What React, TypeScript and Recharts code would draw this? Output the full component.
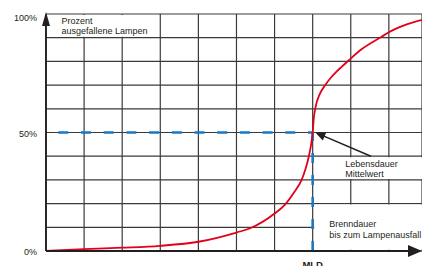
import {
  LineChart,
  Line,
  XAxis,
  YAxis,
  CartesianGrid,
  ReferenceLine,
  ReferenceArea,
} from "recharts";

// Brenndauer in grid units (MLD = 7) vs. percentage of failed lamps
const burnTime = [
  0, 1, 2, 3, 4, 5, 5.36, 6, 6.28, 6.5, 6.71, 6.82, 6.9, 6.96, 7.0, 7.03, 7.08,
  7.18, 7.33, 7.47, 7.62, 7.78, 7.95, 8.3, 8.8, 9.0, 9.4, 9.87,
];
const failedPct = [
  0, 0.8, 1.4, 2.2, 3.9, 7.8, 9.6, 15.8, 19.7, 24.5, 30, 35, 40, 45, 50, 56, 61,
  66, 70, 73, 75.6, 78, 80.5, 85.3, 90.3, 92.3, 95.2, 97.5,
];

const xTicks = [0, 1, 2, 3, 4, 5, 6, 7, 8, 9];
const yTicks = [0, 10, 20, 30, 40, 50, 60, 70, 80, 90, 100];
const yLabelTicks = [0, 50, 100];
const xMax = 9.87;
const mld = 7;
const mldPct = 50;

const RED = "#e2001a";
const BLUE = "#1a78c2";
const INK = "#231f20";
const GRID = "#3a3a3a";

const data = burnTime.map((t, i) => ({ t, pct: failedPct[i] }));

// line with a filled arrow head at its end point
function Arrow(props: any) {
  const { x1, y1, x2, y2, stroke, strokeWidth, headLen, headHalf, overshoot = 0 } = props;
  const dx = x2 - x1;
  const dy = y2 - y1;
  const len = Math.sqrt(dx * dx + dy * dy) || 1;
  const ux = dx / len;
  const uy = dy / len;
  const tx = x2 + ux * overshoot;
  const ty = y2 + uy * overshoot;
  const bx = tx - ux * headLen;
  const by = ty - uy * headLen;
  const nx = -uy * headHalf;
  const ny = ux * headHalf;
  return (
    <g>
      <line x1={x1} y1={y1} x2={bx + ux * 2} y2={by + uy * 2} stroke={stroke} strokeWidth={strokeWidth} />
      <polygon points={`${tx},${ty} ${bx + nx},${by + ny} ${bx - nx},${by - ny}`} fill={stroke} />
    </g>
  );
}

function BoxText(props: any) {
  const { viewBox, lines, dx, dy } = props;
  return (
    <text x={viewBox.x + dx} y={viewBox.y + dy} fontSize={9} fill={INK}>
      {lines.map((l: string, i: number) => (
        <tspan key={i} x={viewBox.x + dx} dy={i === 0 ? 0 : 10.5}>
          {l}
        </tspan>
      ))}
    </text>
  );
}

function YTick(props: any) {
  const { x, y, payload } = props;
  if (!yLabelTicks.includes(payload.value)) return <g />;
  const shift = payload.value === 100 ? 4 : 1;
  return (
    <text x={x} y={y + shift} dy={3.2} textAnchor="end" fontSize={9} fill={INK}>
      {payload.value}%
    </text>
  );
}

function NoTick() {
  return <g />;
}

export default function App() {
  return (
    <div style={{ position: "fixed", left: 0, top: 0, background: "#fff" }}>
      <LineChart
        width={422}
        height={266}
        data={data}
        margin={{ top: 14, right: 0, bottom: 14, left: 0 }}
        style={{ fontFamily: "'Liberation Sans', Arial, sans-serif" }}
      >
        <CartesianGrid stroke={GRID} strokeWidth={1.2} />
        <XAxis
          dataKey="t"
          type="number"
          domain={[0, xMax]}
          ticks={xTicks}
          height={1}
          tick={<NoTick />}
          axisLine={false}
          tickLine={false}
        />
        <YAxis
          type="number"
          domain={[0, 100]}
          ticks={yTicks}
          width={46}
          axisLine={false}
          tickLine={false}
          tickSize={0}
          tickMargin={9}
          tick={<YTick />}
        />

        {/* white boxes behind the captions */}
        <ReferenceArea
          x1={0.04}
          x2={2.96}
          y1={90.4}
          y2={99.6}
          fill="#fff"
          fillOpacity={1}
          stroke="none"
          label={<BoxText lines={["Prozent", "ausgefallene Lampen"]} dx={14} dy={9} />}
        />
        <ReferenceArea
          x1={7.04}
          x2={xMax}
          y1={30.4}
          y2={39.6}
          fill="#fff"
          fillOpacity={1}
          stroke="none"
          label={<BoxText lines={["Lebensdauer", "Mittelwert"]} dx={31} dy={9.5} />}
        />
        <ReferenceArea
          x1={7.04}
          x2={xMax}
          y1={0.5}
          y2={19.6}
          fill="#fff"
          fillOpacity={1}
          stroke="none"
          label={<BoxText lines={["Brenndauer", "bis zum Lampenausfall"]} dx={15} dy={22.5} />}
        />

        {/* MLD guide lines */}
        <ReferenceLine
          segment={[
            { x: 0, y: mldPct },
            { x: mld, y: mldPct },
          ]}
          stroke={BLUE}
          strokeWidth={2.6}
          strokeDasharray="10 12.7"
          strokeDashoffset={10.4}
        />
        <ReferenceLine
          segment={[
            { x: mld, y: 0 },
            { x: mld, y: mldPct },
          ]}
          stroke={BLUE}
          strokeWidth={2.6}
          strokeDasharray="10 12"
          label={{ value: "MLD", position: "bottom", offset: 10, fontSize: 9.5, fontWeight: "bold", fill: INK }}
        />

        <Line
          type="monotone"
          dataKey="pct"
          stroke={RED}
          strokeWidth={1.8}
          dot={false}
          isAnimationActive={false}
        />

        {/* axes with arrow heads */}
        <ReferenceLine
          segment={[
            { x: 0, y: 0 },
            { x: 0, y: 100 },
          ]}
          stroke={INK}
          strokeWidth={1.8}
          shape={(p: any) => <Arrow {...p} headLen={14} headHalf={4} overshoot={2} />}
        />
        <ReferenceLine
          segment={[
            { x: 0, y: 0 },
            { x: xMax, y: 0 },
          ]}
          stroke={INK}
          strokeWidth={1.8}
          shape={(p: any) => <Arrow {...p} headLen={14} headHalf={6} />}
        />
        {/* pointer to the mean lifetime */}
        <ReferenceLine
          segment={[
            { x: 8.53, y: 40 },
            { x: 7.07, y: mldPct },
          ]}
          stroke={INK}
          strokeWidth={1.5}
          shape={(p: any) => <Arrow {...p} headLen={10} headHalf={4.5} />}
        />
      </LineChart>
    </div>
  );
}
